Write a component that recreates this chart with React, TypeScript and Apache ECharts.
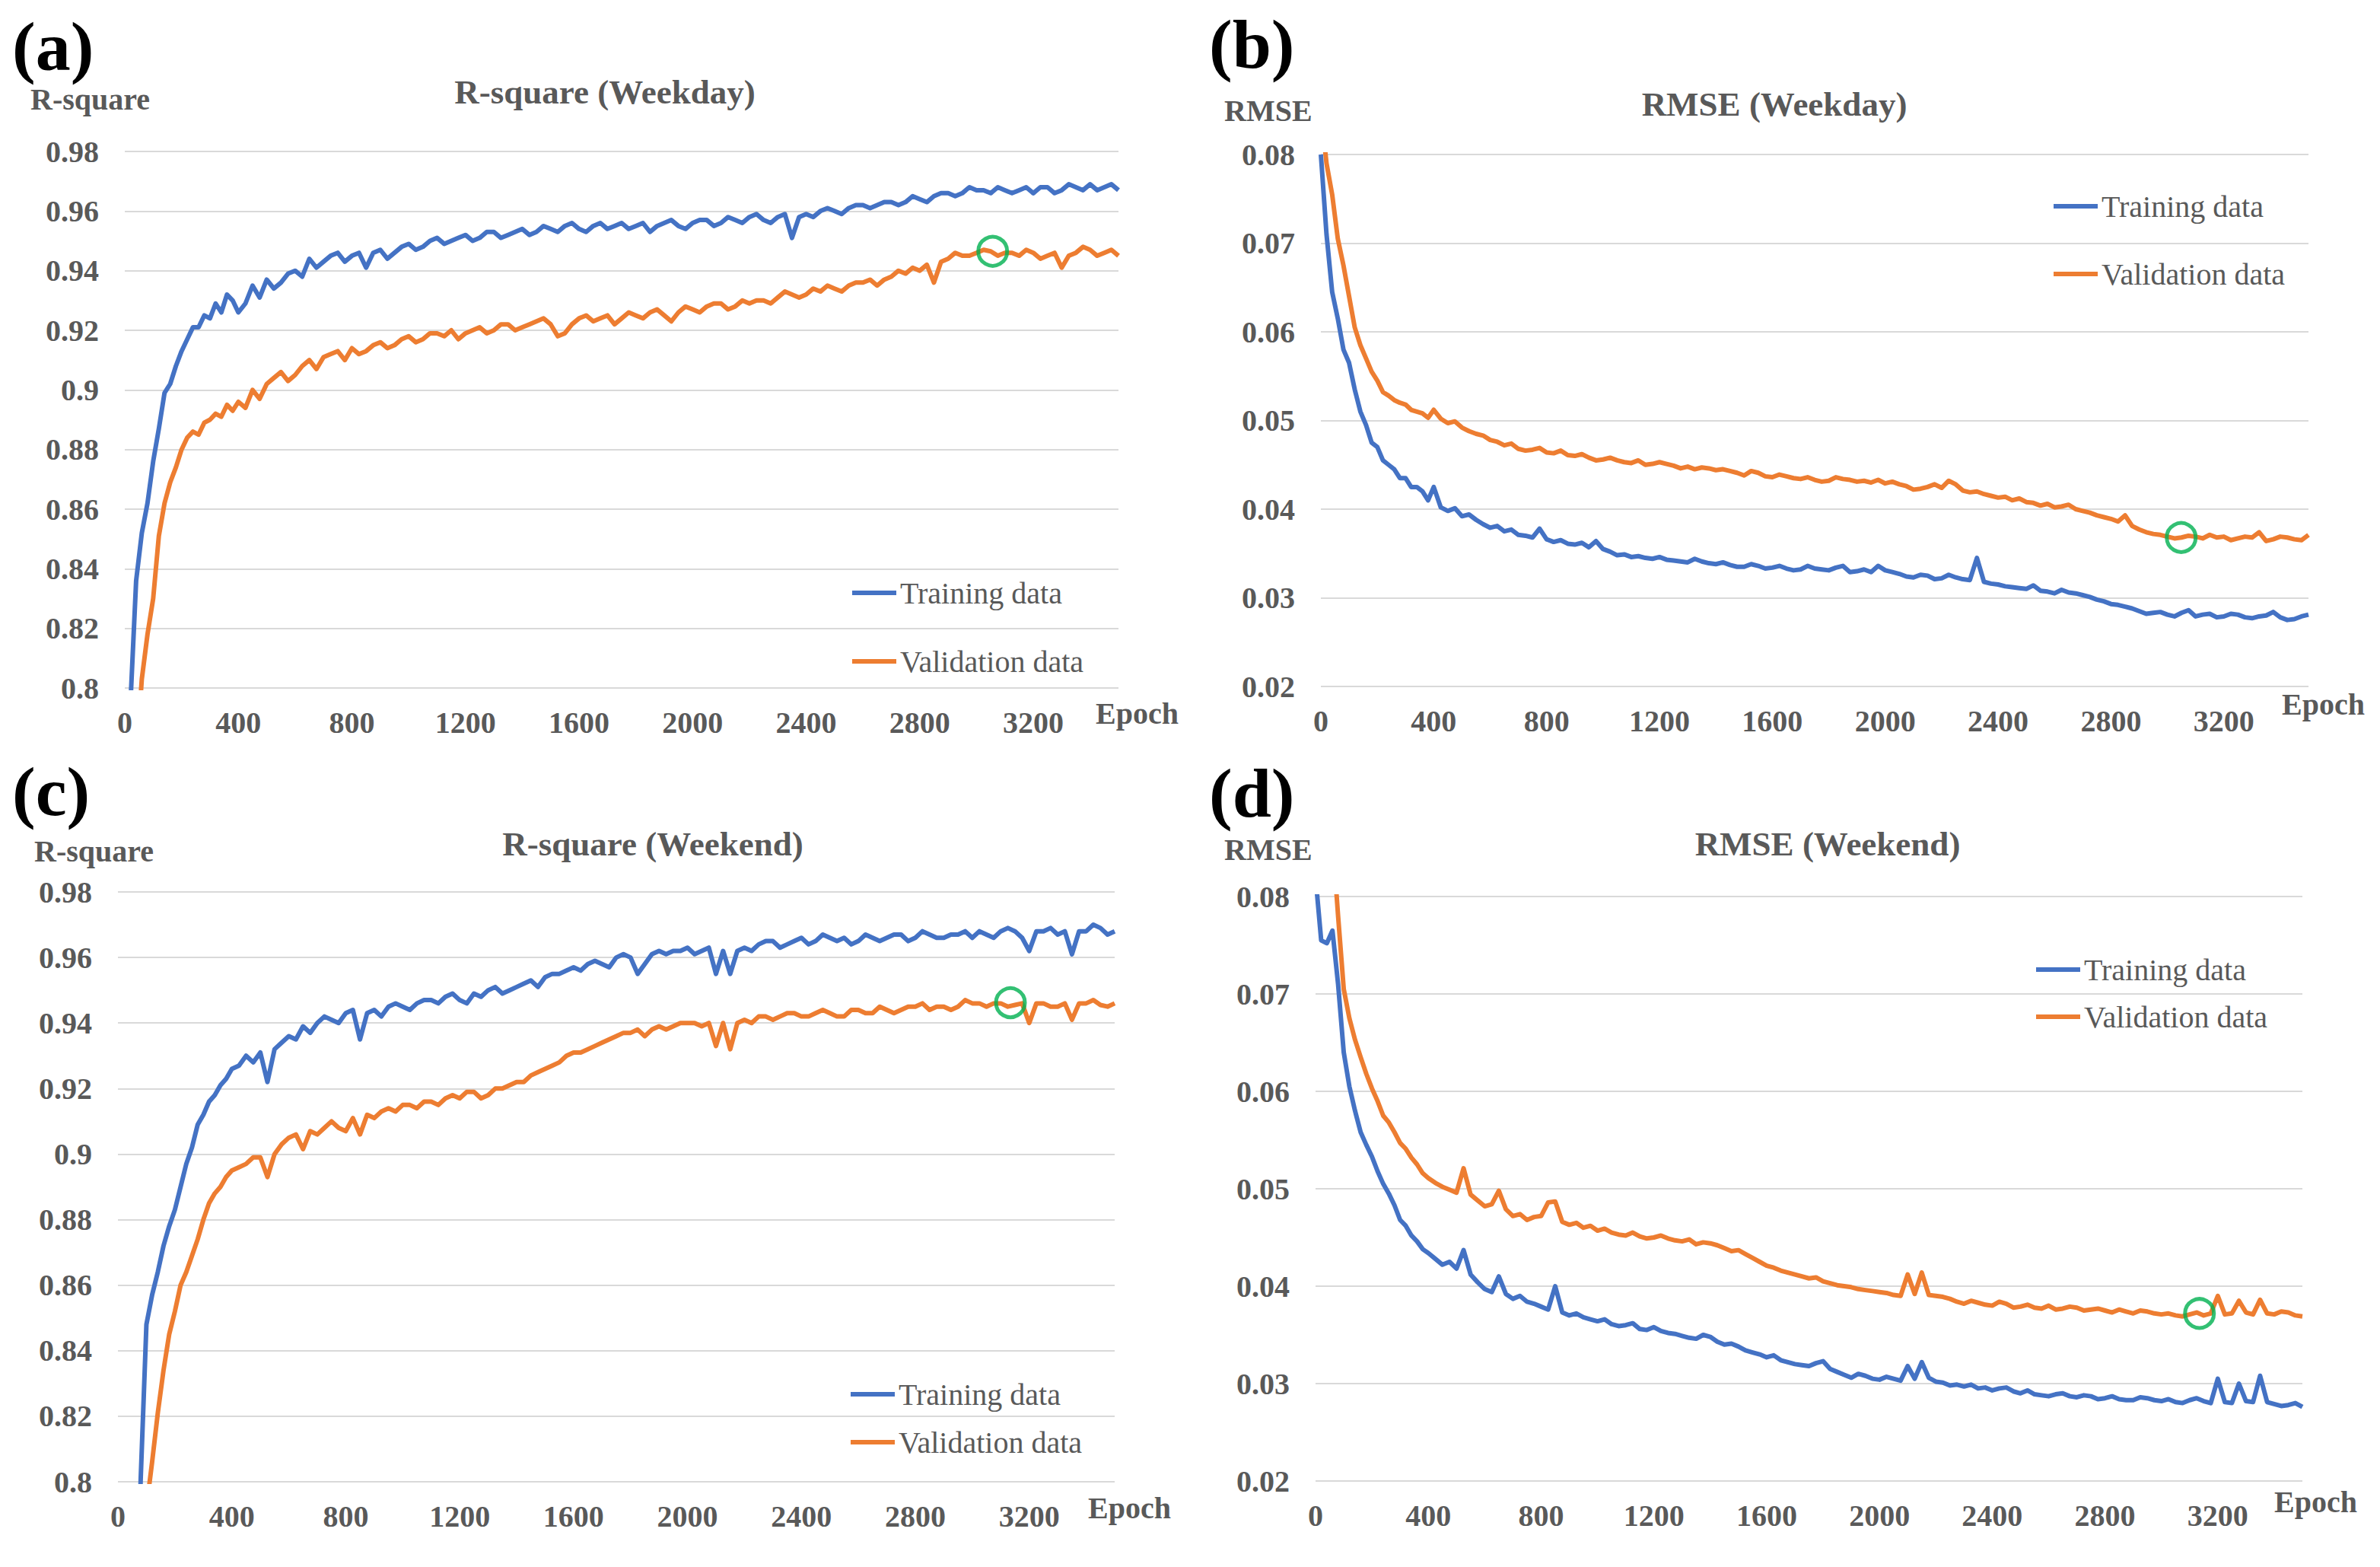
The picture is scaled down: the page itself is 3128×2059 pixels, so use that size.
import React, { useEffect, useRef } from "react";
import * as echarts from "echarts";

// ---------------- DATA ----------------
const EPOCHS = [
  0, 20, 40, 60, 80, 100, 120, 140, 160, 180, 200, 220, 240, 260, 280, 300, 320, 340, 360, 380, 400,
  425, 450, 475, 500, 525, 550, 575, 600,
  625, 650, 675, 700, 725, 750, 775, 800,
  825, 850, 875, 900, 925, 950, 975, 1000,
  1025, 1050, 1075, 1100, 1125, 1150, 1175, 1200,
  1225, 1250, 1275, 1300, 1325, 1350, 1375, 1400,
  1425, 1450, 1475, 1500, 1525, 1550, 1575, 1600,
  1625, 1650, 1675, 1700, 1725, 1750, 1775, 1800,
  1825, 1850, 1875, 1900, 1925, 1950, 1975, 2000,
  2025, 2050, 2075, 2100, 2125, 2150, 2175, 2200,
  2225, 2250, 2275, 2300, 2325, 2350, 2375, 2400,
  2425, 2450, 2475, 2500, 2525, 2550, 2575, 2600,
  2625, 2650, 2675, 2700, 2725, 2750, 2775, 2800,
  2825, 2850, 2875, 2900, 2925, 2950, 2975, 3000,
  3025, 3050, 3075, 3100, 3125, 3150, 3175, 3200,
  3225, 3250, 3275, 3300, 3325, 3350, 3375, 3400,
  3425, 3450, 3475, 3500,
];

// (a) R-square, weekday
const trainR2Weekday = [
  0.74, 0.795, 0.836, 0.852, 0.862, 0.876, 0.887, 0.899, 0.902, 0.908, 0.913, 0.917, 0.921, 0.921, 0.925, 0.924, 0.929, 0.926, 0.932, 0.93, 0.926,
  0.929, 0.935, 0.931, 0.937, 0.934, 0.936, 0.939, 0.94,
  0.938, 0.944, 0.941, 0.943, 0.945, 0.946, 0.943, 0.945,
  0.946, 0.941, 0.946, 0.947, 0.944, 0.946, 0.948, 0.949,
  0.947, 0.948, 0.95, 0.951, 0.949, 0.95, 0.951, 0.952,
  0.95, 0.951, 0.953, 0.953, 0.951, 0.952, 0.953, 0.954,
  0.952, 0.953, 0.955, 0.954, 0.953, 0.955, 0.956, 0.954,
  0.953, 0.955, 0.956, 0.954, 0.955, 0.956, 0.954, 0.955,
  0.956, 0.953, 0.955, 0.956, 0.957, 0.955, 0.954, 0.956,
  0.957, 0.957, 0.955, 0.956, 0.958, 0.957, 0.956, 0.958,
  0.959, 0.957, 0.956, 0.958, 0.959, 0.951, 0.958, 0.959,
  0.958, 0.96, 0.961, 0.96, 0.959, 0.961, 0.962, 0.962,
  0.961, 0.962, 0.963, 0.963, 0.962, 0.963, 0.965, 0.964,
  0.963, 0.965, 0.966, 0.966, 0.965, 0.966, 0.968, 0.967,
  0.967, 0.966, 0.968, 0.967, 0.966, 0.967, 0.968, 0.966,
  0.968, 0.968, 0.966, 0.967, 0.969, 0.968, 0.967, 0.969,
  0.967, 0.968, 0.969, 0.967,
];
const validR2Weekday = [
  0.7, 0.74, 0.775, 0.803, 0.818, 0.83, 0.851, 0.862, 0.869, 0.874, 0.88, 0.884, 0.886, 0.885, 0.889, 0.89, 0.892, 0.891, 0.895, 0.893, 0.896,
  0.894, 0.9, 0.897, 0.902, 0.904, 0.906, 0.903, 0.905,
  0.908, 0.91, 0.907, 0.911, 0.912, 0.913, 0.91, 0.914,
  0.912, 0.913, 0.915, 0.916, 0.914, 0.915, 0.917, 0.918,
  0.916, 0.917, 0.919, 0.919, 0.918, 0.92, 0.917, 0.919,
  0.92, 0.921, 0.919, 0.92, 0.922, 0.922, 0.92, 0.921,
  0.922, 0.923, 0.924, 0.922, 0.918, 0.919, 0.922, 0.924,
  0.925, 0.923, 0.924, 0.925, 0.922, 0.924, 0.926, 0.925,
  0.924, 0.926, 0.927, 0.925, 0.923, 0.926, 0.928, 0.927,
  0.926, 0.928, 0.929, 0.929, 0.927, 0.928, 0.93, 0.929,
  0.93, 0.93, 0.929, 0.931, 0.933, 0.932, 0.931, 0.932,
  0.934, 0.933, 0.935, 0.934, 0.933, 0.935, 0.936, 0.936,
  0.937, 0.935, 0.937, 0.938, 0.94, 0.939, 0.941, 0.94,
  0.942, 0.936, 0.943, 0.944, 0.946, 0.945, 0.945, 0.946,
  0.947, 0.9465, 0.945, 0.946, 0.946, 0.945, 0.947, 0.946,
  0.944, 0.945, 0.946, 0.941, 0.945, 0.946, 0.948, 0.947,
  0.945, 0.946, 0.947, 0.945,
];

// (b) RMSE, weekday
const trainRmseWeekday = [
  0.08, 0.071, 0.0645, 0.0615, 0.058, 0.0565, 0.0535, 0.051, 0.0495, 0.0475, 0.047, 0.0455, 0.045, 0.0445, 0.0435, 0.0435, 0.0425, 0.0425, 0.042, 0.041, 0.0425,
  0.0402, 0.0398, 0.0401, 0.0392, 0.0394, 0.0388, 0.0383, 0.0379,
  0.0381, 0.0375, 0.0377, 0.0371, 0.037, 0.0368, 0.0378, 0.0366,
  0.0363, 0.0365, 0.0361, 0.036, 0.0362, 0.0357, 0.0364, 0.0355,
  0.0352, 0.0348, 0.0349, 0.0346, 0.0347, 0.0345, 0.0344, 0.0346,
  0.0343, 0.0342, 0.0341, 0.034, 0.0344, 0.0341, 0.0339, 0.0338,
  0.034, 0.0337, 0.0335, 0.0335, 0.0338, 0.0336, 0.0333, 0.0334,
  0.0336, 0.0333, 0.0331, 0.0332, 0.0336, 0.0333, 0.0332, 0.0331,
  0.0334, 0.0336, 0.0329, 0.033, 0.0332, 0.0329, 0.0336, 0.0331,
  0.0329, 0.0327, 0.0324, 0.0323, 0.0326, 0.0325, 0.0321, 0.0322,
  0.0326, 0.0323, 0.0321, 0.032, 0.0345, 0.0318, 0.0316, 0.0315,
  0.0313, 0.0312, 0.0311, 0.031, 0.0314, 0.0308, 0.0307, 0.0305,
  0.0309, 0.0306, 0.0305, 0.0303, 0.0301, 0.0298, 0.0296, 0.0293,
  0.0292, 0.029, 0.0288, 0.0285, 0.0282, 0.0283, 0.0284, 0.0281,
  0.0279, 0.0283, 0.0286, 0.0279, 0.0281, 0.0282, 0.0278, 0.0279,
  0.0282, 0.0281, 0.0278, 0.0277, 0.0279, 0.028, 0.0284, 0.0278,
  0.0275, 0.0276, 0.0279, 0.0281,
];
const validRmseWeekday = [
  0.085, 0.079, 0.0755, 0.0705, 0.0675, 0.064, 0.0605, 0.0585, 0.057, 0.0555, 0.0545, 0.0532, 0.0528, 0.0523, 0.052, 0.0518, 0.0512, 0.051, 0.0508, 0.0503, 0.0512,
  0.0502, 0.0497, 0.0499, 0.0492, 0.0488, 0.0485, 0.0483, 0.0478,
  0.0476, 0.0472, 0.0474, 0.0468, 0.0466, 0.0467, 0.0469, 0.0464,
  0.0463, 0.0466, 0.0461, 0.046, 0.0462, 0.0458, 0.0455, 0.0456,
  0.0458, 0.0455, 0.0453, 0.0452, 0.0455, 0.045, 0.0451, 0.0453,
  0.0451, 0.0449, 0.0446, 0.0448, 0.0445, 0.0447, 0.0446, 0.0444,
  0.0445, 0.0443, 0.0441, 0.0438, 0.0443, 0.0441, 0.0437, 0.0436,
  0.0439, 0.0437, 0.0435, 0.0434, 0.0436, 0.0433, 0.0431, 0.0432,
  0.0436, 0.0434, 0.0433, 0.0431, 0.0432, 0.043, 0.0433, 0.0429,
  0.0431, 0.0428, 0.0426, 0.0422, 0.0423, 0.0425, 0.0428, 0.0424,
  0.0432, 0.0428, 0.0421, 0.0419, 0.042, 0.0417, 0.0415, 0.0413,
  0.0414, 0.041, 0.0412, 0.0408, 0.0407, 0.0404, 0.0406, 0.0402,
  0.0403, 0.0405, 0.04, 0.0398, 0.0396, 0.0393, 0.0391, 0.0389,
  0.0386, 0.0393, 0.0381, 0.0377, 0.0374, 0.0372, 0.0371, 0.0369,
  0.0367, 0.0368, 0.037, 0.0369, 0.0367, 0.0371, 0.0368, 0.0369,
  0.0365, 0.0367, 0.0369, 0.0368, 0.0374, 0.0364, 0.0366, 0.0369,
  0.0368, 0.0366, 0.0365, 0.0371,
];

// (c) R-square, weekend
const trainR2Weekend = [
  0.55, 0.62, 0.68, 0.74, 0.801, 0.848, 0.857, 0.864, 0.872, 0.878, 0.883, 0.89, 0.897, 0.902, 0.909, 0.912, 0.916, 0.918, 0.921, 0.923, 0.926,
  0.927, 0.93, 0.928, 0.931, 0.922, 0.932, 0.934, 0.936,
  0.935, 0.939, 0.937, 0.94, 0.942, 0.941, 0.94, 0.943,
  0.944, 0.935, 0.943, 0.944, 0.942, 0.945, 0.946, 0.945,
  0.944, 0.946, 0.947, 0.947, 0.946, 0.948, 0.949, 0.947,
  0.946, 0.949, 0.948, 0.95, 0.951, 0.949, 0.95, 0.951,
  0.952, 0.953, 0.951, 0.954, 0.955, 0.955, 0.956, 0.957,
  0.956, 0.958, 0.959, 0.958, 0.957, 0.96, 0.961, 0.96,
  0.955, 0.958, 0.961, 0.962, 0.961, 0.962, 0.962, 0.963,
  0.961, 0.962, 0.963, 0.955, 0.962, 0.955, 0.962, 0.963,
  0.962, 0.964, 0.965, 0.965, 0.963, 0.964, 0.965, 0.966,
  0.964, 0.965, 0.967, 0.966, 0.965, 0.966, 0.964, 0.965,
  0.967, 0.966, 0.965, 0.966, 0.967, 0.967, 0.965, 0.966,
  0.968, 0.967, 0.966, 0.966, 0.967, 0.967, 0.968, 0.966,
  0.968, 0.967, 0.966, 0.968, 0.969, 0.968, 0.966, 0.962,
  0.968, 0.968, 0.969, 0.967, 0.968, 0.961, 0.968, 0.968,
  0.97, 0.969, 0.967, 0.968,
];
const validR2Weekend = [
  0.5, 0.58, 0.66, 0.72, 0.77, 0.792, 0.806, 0.821, 0.834, 0.845, 0.852, 0.86, 0.864, 0.869, 0.874, 0.88, 0.885, 0.888, 0.89, 0.893, 0.895,
  0.896, 0.897, 0.899, 0.899, 0.893, 0.9, 0.903, 0.905,
  0.906, 0.9015, 0.907, 0.906, 0.908, 0.91, 0.908, 0.907,
  0.911, 0.906, 0.912, 0.911, 0.913, 0.914, 0.913, 0.915,
  0.915, 0.914, 0.916, 0.916, 0.915, 0.917, 0.918, 0.917,
  0.919, 0.919, 0.917, 0.918, 0.92, 0.92, 0.921, 0.922,
  0.922, 0.924, 0.925, 0.926, 0.927, 0.928, 0.93, 0.931,
  0.931, 0.932, 0.933, 0.934, 0.935, 0.936, 0.937, 0.937,
  0.938, 0.936, 0.938, 0.939, 0.938, 0.939, 0.94, 0.94,
  0.94, 0.939, 0.94, 0.933, 0.94, 0.932, 0.94, 0.941,
  0.94, 0.942, 0.942, 0.941, 0.942, 0.943, 0.943, 0.942,
  0.942, 0.943, 0.944, 0.943, 0.942, 0.942, 0.944, 0.944,
  0.943, 0.943, 0.945, 0.944, 0.943, 0.944, 0.945, 0.945,
  0.946, 0.944, 0.945, 0.945, 0.944, 0.945, 0.947, 0.946,
  0.946, 0.945, 0.946, 0.946, 0.945, 0.9455, 0.946, 0.94,
  0.946, 0.946, 0.945, 0.945, 0.946, 0.941, 0.946, 0.946,
  0.947, 0.9455, 0.945, 0.946,
];

// (d) RMSE, weekend
const trainRmseWeekend = [
  0.082, 0.0755, 0.0752, 0.0765, 0.071, 0.064, 0.0605, 0.058, 0.0558, 0.0545, 0.0533, 0.0518, 0.0505, 0.0495, 0.0483, 0.0468, 0.0462, 0.0452, 0.0446, 0.0438, 0.0434,
  0.0428, 0.0422, 0.0425, 0.0418, 0.0437, 0.0412, 0.0404, 0.0397,
  0.0394, 0.041, 0.0392, 0.0387, 0.039, 0.0384, 0.0382, 0.0379,
  0.0376, 0.04, 0.0373, 0.037, 0.0372, 0.0368, 0.0366, 0.0364,
  0.0366, 0.0361, 0.0359, 0.036, 0.0362, 0.0356, 0.0355, 0.0358,
  0.0354, 0.0352, 0.0351, 0.0349, 0.0347, 0.0346, 0.035, 0.0348,
  0.0343, 0.034, 0.0341, 0.0338, 0.0334, 0.0332, 0.033, 0.0327,
  0.0329, 0.0324, 0.0322, 0.032, 0.0319, 0.0318, 0.0321, 0.0323,
  0.0315, 0.0312, 0.0309, 0.0306, 0.031, 0.0308, 0.0305, 0.0304,
  0.0307, 0.0305, 0.0303, 0.0318, 0.0305, 0.0322, 0.0306, 0.0302,
  0.0301, 0.0298, 0.0299, 0.0297, 0.0299, 0.0295, 0.0296, 0.0293,
  0.0295, 0.0296, 0.0292, 0.029, 0.0293, 0.0289, 0.0288, 0.0287,
  0.0289, 0.029, 0.0287, 0.0286, 0.0288, 0.0287, 0.0284, 0.0285,
  0.0287, 0.0284, 0.0283, 0.0283, 0.0286, 0.0285, 0.0283, 0.0282,
  0.0284, 0.0281, 0.028, 0.0283, 0.0285, 0.0282, 0.028, 0.0305,
  0.0281, 0.028, 0.03, 0.0282, 0.0281, 0.0308, 0.0281, 0.0279,
  0.0277, 0.0278, 0.028, 0.0276,
];
const validRmseWeekend = [
  0.1, 0.095, 0.09, 0.086, 0.078, 0.0705, 0.0675, 0.0653, 0.0635, 0.0618, 0.0603, 0.059, 0.0575, 0.0568, 0.0558, 0.0547, 0.0541, 0.0532, 0.0525, 0.0516, 0.0511,
  0.0506, 0.0502, 0.0499, 0.0496, 0.0521, 0.0494, 0.0488, 0.0482,
  0.0484, 0.0498, 0.0479, 0.0472, 0.0474, 0.0468, 0.0471, 0.0472,
  0.0486, 0.0487, 0.0466, 0.0463, 0.0465, 0.046, 0.0462, 0.0457,
  0.0459, 0.0455, 0.0453, 0.0452, 0.0455, 0.0451, 0.0449, 0.045,
  0.0452, 0.0449, 0.0447, 0.0446, 0.0448, 0.0443, 0.0445, 0.0444,
  0.0442, 0.0439, 0.0436, 0.0437, 0.0433, 0.0429, 0.0425, 0.0421,
  0.0419, 0.0416, 0.0414, 0.0412, 0.041, 0.0408, 0.0409, 0.0405,
  0.0403, 0.0401, 0.04, 0.0399, 0.0397, 0.0396, 0.0395, 0.0394,
  0.0393, 0.0391, 0.039, 0.0412, 0.0392, 0.0414, 0.0391, 0.039,
  0.0389, 0.0387, 0.0384, 0.0382, 0.0385, 0.0383, 0.0381, 0.038,
  0.0384, 0.0382, 0.0378, 0.0379, 0.0381, 0.0378, 0.0377, 0.038,
  0.0376, 0.0377, 0.0379, 0.0378, 0.0375, 0.0376, 0.0377, 0.0375,
  0.0373, 0.0376, 0.0374, 0.0372, 0.0375, 0.0374, 0.0372, 0.0371,
  0.0372, 0.037, 0.0369, 0.0371, 0.0373, 0.037, 0.0372, 0.039,
  0.0371, 0.0372, 0.0385, 0.0373, 0.0371, 0.0386, 0.0372, 0.0371,
  0.0374, 0.0373, 0.037, 0.0369,
];

// Best-epoch markers (green circles) on validation curves
const bestEpoch = [3057, 3049, 3134, 3135];
const bestValue = [0.9465, 0.0368, 0.9462, 0.0372];

const panelLetters = ["(a)", "(b)", "(c)", "(d)"];
const panelTitles = ["R-square (Weekday)", "RMSE (Weekday)", "R-square (Weekend)", "RMSE (Weekend)"];
const yNames = ["R-square", "RMSE", "R-square", "RMSE"];
const legendNames = ["Training data", "Validation data"];

// ---------------- STYLE / LAYOUT ----------------
const FONT = '"Liberation Serif", "Times New Roman", serif';
const BLUE = "#4472C4";
const ORANGE = "#ED7D31";
const GREY = "#595959";

const layout = [
  {
    grid: { left: 164, top: 199, width: 1306, height: 705 },
    y: [0.8, 0.98, 0.02],
    legend: { left: 1120, top: 759, gap: 50 },
    letter: [16, 61], title: [795, 121], yName: [40, 130], epoch: [1440, 937],
  },
  {
    grid: { left: 1736, top: 203, width: 1298, height: 699 },
    y: [0.02, 0.08, 0.01],
    legend: { left: 2699, top: 251, gap: 49 },
    letter: [1589, 58], title: [2332, 137], yName: [1609, 145], epoch: [2999, 925],
  },
  {
    grid: { left: 155, top: 1172, width: 1310, height: 775 },
    y: [0.8, 0.98, 0.02],
    legend: { left: 1118, top: 1812, gap: 23 },
    letter: [16, 1040], title: [858, 1109], yName: [45, 1118], epoch: [1430, 1981],
  },
  {
    grid: { left: 1729, top: 1178, width: 1297, height: 768 },
    y: [0.02, 0.08, 0.01],
    legend: { left: 2676, top: 1254, gap: 22 },
    letter: [1589, 1042], title: [2402, 1109], yName: [1609, 1116], epoch: [2989, 1973],
  },
];

const seriesData = [
  [trainR2Weekday, validR2Weekday],
  [trainRmseWeekday, validRmseWeekday],
  [trainR2Weekend, validR2Weekend],
  [trainRmseWeekend, validRmseWeekend],
];

function txt(text: string, x: number, y: number, size: number, weight: string, color: string, align: string) {
  return {
    type: "text",
    x,
    y,
    silent: true,
    style: {
      text,
      fill: color,
      font: `${weight} ${size}px ${FONT}`,
      align,
      verticalAlign: "middle",
      textAlign: align,
      textVerticalAlign: "middle",
    },
  };
}

function buildOption() {
  const grids: any[] = [];
  const xAxes: any[] = [];
  const yAxes: any[] = [];
  const series: any[] = [];
  const legends: any[] = [];
  const graphics: any[] = [];

  layout.forEach((p, i) => {
    grids.push({ ...p.grid, containLabel: false, outerBoundsMode: "none" });
    xAxes.push({
      type: "value",
      gridIndex: i,
      min: 0,
      max: 3500,
      interval: 400,
      axisLine: { show: false },
      axisTick: { show: false },
      splitLine: { show: false },
      axisLabel: {
        showMaxLabel: false,
        margin: 25,
        color: GREY,
        fontFamily: FONT,
        fontWeight: "bold",
        fontSize: 40,
        formatter: (v: number) => (v > 3200 ? "" : String(v)),
      },
    });
    yAxes.push({
      type: "value",
      gridIndex: i,
      min: p.y[0],
      max: p.y[1],
      interval: p.y[2],
      axisLine: { show: false },
      axisTick: { show: false },
      splitLine: { show: true, lineStyle: { color: "#D9D9D9", width: 2 } },
      axisLabel: {
        margin: 34,
        color: GREY,
        fontFamily: FONT,
        fontWeight: "bold",
        fontSize: 40,
      },
    });
    const [tr, va] = seriesData[i];
    series.push({
      name: legendNames[0],
      type: "line",
      xAxisIndex: i,
      yAxisIndex: i,
      data: EPOCHS.map((e, k) => [e, tr[k]]),
      showSymbol: false,
      symbol: "none",
      clip: true,
      color: BLUE,
      lineStyle: { color: BLUE, width: 6, join: "round" },
      z: 3,
    });
    series.push({
      name: legendNames[1],
      type: "line",
      xAxisIndex: i,
      yAxisIndex: i,
      data: EPOCHS.map((e, k) => [e, va[k]]),
      showSymbol: false,
      symbol: "none",
      clip: true,
      color: ORANGE,
      lineStyle: { color: ORANGE, width: 6, join: "round" },
      z: 3,
    });
    series.push({
      name: "best",
      type: "scatter",
      xAxisIndex: i,
      yAxisIndex: i,
      data: [[bestEpoch[i], bestValue[i]]],
      symbol: "circle",
      symbolSize: 38,
      itemStyle: { color: "rgba(0,0,0,0)", borderColor: "#00B050", borderWidth: 5 },
      z: 5,
      silent: true,
    });
    legends.push({
      left: p.legend.left,
      top: p.legend.top,
      orient: "vertical",
      itemGap: p.legend.gap,
      itemWidth: 58,
      itemHeight: 6,
      icon: "rect",
      padding: 0,
      selectedMode: false,
      data: legendNames,
      textStyle: { fontFamily: FONT, fontSize: 40, color: GREY, lineHeight: 40 },
    });
    graphics.push(txt(panelLetters[i], p.letter[0], p.letter[1], 92, "bold", "#000000", "left"));
    graphics.push(txt(panelTitles[i], p.title[0], p.title[1], 45, "bold", GREY, "center"));
    graphics.push(txt(yNames[i], p.yName[0], p.yName[1], 40, "bold", GREY, "left"));
    graphics.push(txt("Epoch", p.epoch[0], p.epoch[1], 40, "bold", GREY, "left"));
  });

  return {
    animation: false,
    backgroundColor: "#ffffff",
    grid: grids,
    xAxis: xAxes,
    yAxis: yAxes,
    legend: legends,
    series,
    graphic: graphics,
  };
}

export default function App() {
  const ref = useRef<HTMLDivElement>(null);
  useEffect(() => {
    if (!ref.current) return;
    const chart = echarts.init(ref.current, undefined, { renderer: "svg" });
    chart.setOption(buildOption() as any);
    return () => chart.dispose();
  }, []);
  return (
    <div
      ref={ref}
      style={{ position: "absolute", left: 0, top: 0, width: 3128, height: 2059, background: "#fff" }}
    />
  );
}
